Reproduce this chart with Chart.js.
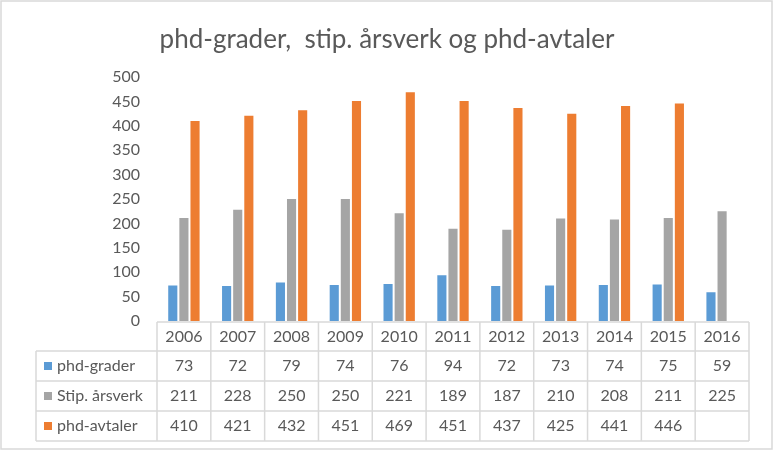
<!DOCTYPE html>
<html>
<head>
<meta charset="utf-8">
<script src="https://cdn.jsdelivr.net/npm/chart.js@4"></script>
<style>
  body { margin: 0; background: #fff; }
  #boks { width: 774px; height: 452px; position: relative; }
</style>
</head>
<body>
<div id="boks"><canvas id="graf"></canvas></div>
<script>
// Data lest av figuren
const aar = ['2006', '2007', '2008', '2009', '2010', '2011', '2012', '2013', '2014', '2015', '2016'];
const phdGrader = [73, 72, 79, 74, 76, 94, 72, 73, 74, 75, 59];
const stipAarsverk = [211, 228, 250, 250, 221, 189, 187, 210, 208, 211, 225];
const phdAvtaler = [410, 421, 432, 451, 469, 451, 437, 425, 441, 446, null];
const yTicks = [0, 50, 100, 150, 200, 250, 300, 350, 400, 450, 500];

const tekstFarge = '#595959';
const linjeFarge = '#d9d9d9';
const skrift = 'Lato, "Open Sans", sans-serif';

const serier = [
    { navn: 'phd-grader', verdier: phdGrader, farge: '#5b9bd5' },
    { navn: 'Stip. årsverk', verdier: stipAarsverk, farge: '#a5a5a5' },
    { navn: 'phd-avtaler', verdier: phdAvtaler, farge: '#ed7d31' }
];

// Datatabell under grafen + ytre ramme
const tabellPlugin = {
    id: 'datatabell',
    afterDraw(chart) {
        const c = chart.ctx;
        const x = chart.scales.x;
        const area = chart.chartArea;
        const bredde = (area.right - area.left) / aar.length;
        const topp = area.bottom + 1;
        const radH = 30;
        const venstre = 36;

        c.save();
        c.strokeStyle = linjeFarge;
        c.lineWidth = 1.5;

        // ramme rundt hele figuren
        c.strokeRect(1, 1, chart.width - 3, chart.height - 4);

        // horisontale linjer
        c.beginPath();
        c.moveTo(area.left, topp);
        c.lineTo(area.right, topp);
        for (let r = 1; r <= 4; r++) {
            const y = topp + 29 + (r - 1) * radH;
            c.moveTo(venstre, y);
            c.lineTo(area.right, y);
        }
        // vertikale linjer
        const bunn = topp + 29 + 3 * radH;
        c.moveTo(venstre, topp + 29);
        c.lineTo(venstre, bunn);
        for (let i = 0; i <= aar.length; i++) {
            const px = i < aar.length ? x.getPixelForValue(i) - bredde / 2 : x.getPixelForValue(aar.length - 1) + bredde / 2;
            c.moveTo(px, topp);
            c.lineTo(px, bunn);
        }
        c.stroke();

        // rader
        c.font = '16px ' + skrift;
        c.textBaseline = 'middle';
        serier.forEach((s, r) => {
            const yMid = topp + 29 + r * radH + radH / 2;
            c.fillStyle = s.farge;
            c.fillRect(44, yMid - 4, 8, 8);
            c.fillStyle = tekstFarge;
            c.textAlign = 'left';
            c.fillText(s.navn, 57, yMid);
            c.textAlign = 'center';
            s.verdier.forEach((v, i) => {
                if (v !== null) c.fillText(String(v), x.getPixelForValue(i), yMid);
            });
        });
        c.restore();
    }
};

const ctx = document.getElementById('graf').getContext('2d');
const graf = new Chart(ctx, {
    type: 'bar',
    data: {
        labels: aar,
        datasets: serier.map(s => ({
            label: s.navn,
            data: s.verdier,
            backgroundColor: s.farge,
            categoryPercentage: 0.62,
            barPercentage: 0.82
        }))
    },
    options: {
        responsive: true,
        maintainAspectRatio: false,
        animation: false,
        layout: { padding: { left: 25, right: 25, top: 0, bottom: 0 } },
        plugins: {
            legend: { display: false },
            tooltip: { enabled: false },
            title: {
                display: true,
                text: 'phd-grader,  stip. årsverk og phd-avtaler',
                color: tekstFarge,
                font: { family: skrift, size: 26, weight: 'normal' },
                padding: { top: 24, bottom: 22 }
            }
        },
        scales: {
            x: {
                grid: { display: false, drawTicks: false },
                border: { display: false },
                ticks: {
                    color: tekstFarge,
                    font: { family: skrift, size: 16 },
                    padding: 6,
                    maxRotation: 0
                },
                afterFit(scale) { scale.height = 131; }
            },
            y: {
                min: 0,
                max: 500,
                grid: { display: false, drawTicks: false },
                border: { display: false },
                afterBuildTicks(scale) { scale.ticks = yTicks.map(v => ({ value: v })); },
                ticks: {
                    color: tekstFarge,
                    font: { family: skrift, size: 16 },
                    padding: 17
                },
                afterFit(scale) { scale.width = 132; }
            }
        }
    },
    plugins: [tabellPlugin]
});
</script>
</body>
</html>
